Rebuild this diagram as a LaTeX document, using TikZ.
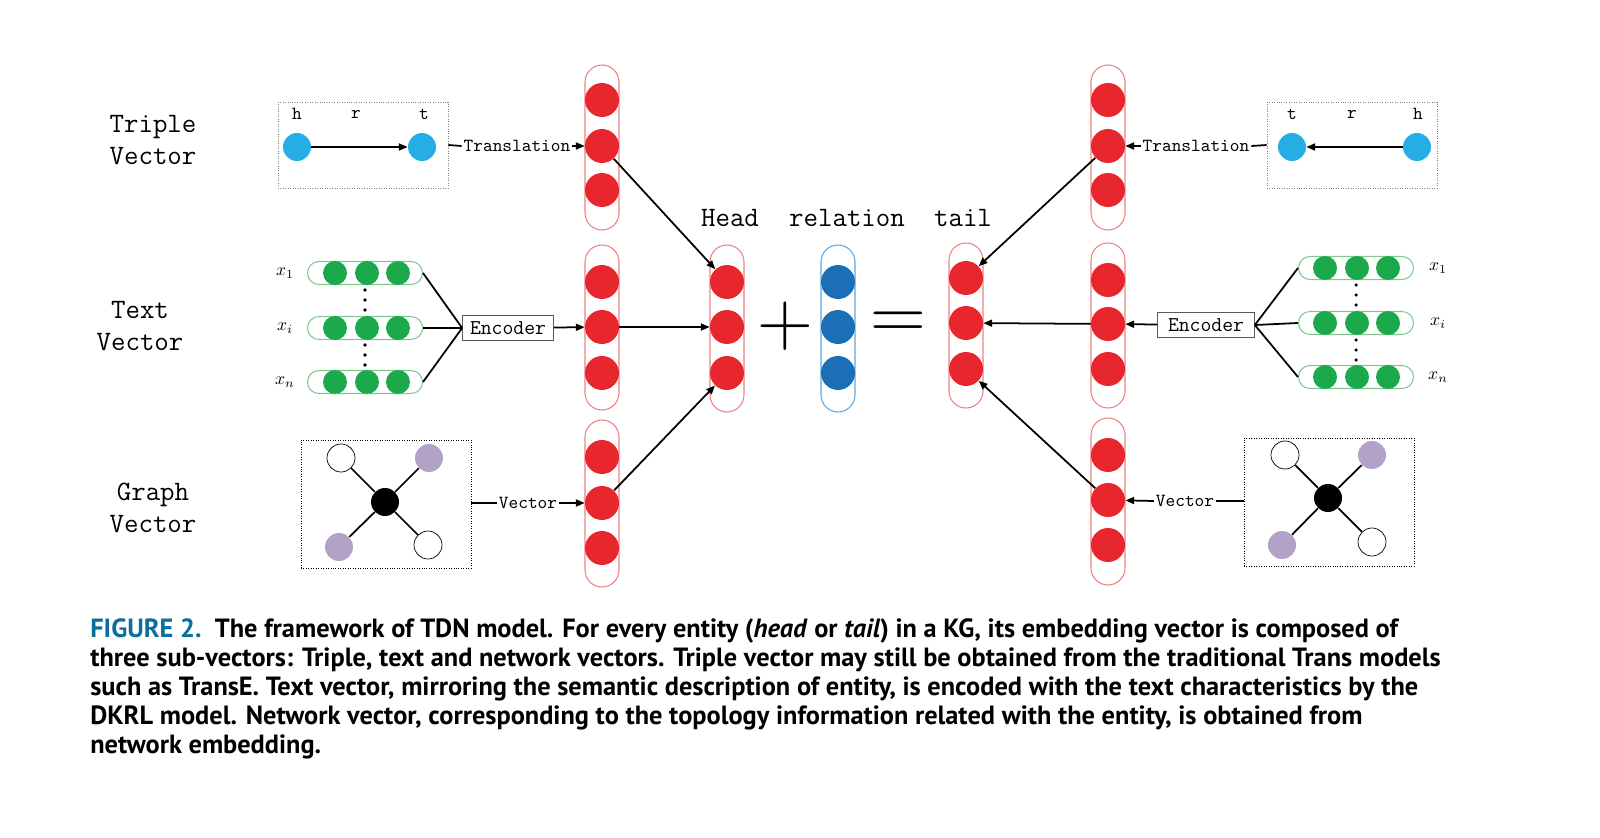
\documentclass[tikz,border=0pt]{standalone}
\usepackage{fontspec}
\newfontfamily\capfont{PT Sans}
\usetikzlibrary{arrows.meta}
\definecolor{vred}{HTML}{E8262E}
\definecolor{vpink}{HTML}{F08080}
\definecolor{vblue}{HTML}{1B6FB5}
\definecolor{vlblue}{HTML}{5AA8E0}
\definecolor{vcyan}{HTML}{25AEE6}
\definecolor{vgreen}{HTML}{1BA94C}
\definecolor{vlgreen}{HTML}{7CC98F}
\definecolor{vpurple}{HTML}{B3A2C7}
\definecolor{capblue}{HTML}{0A6E9E}
\begin{document}
\begin{tikzpicture}[x=0.02cm,y=-0.02cm,
  vcap/.style={draw=vpink,rounded corners=0.34cm,minimum width=0.68cm,line width=0.6pt},
  rd/.style={circle,fill=vred,minimum size=0.68cm,inner sep=0},
  bd/.style={circle,fill=vblue,minimum size=0.68cm,inner sep=0},
  gd/.style={circle,fill=vgreen,minimum size=0.48cm,inner sep=0},
  gcap/.style={draw=vlgreen,rounded corners=0.23cm,minimum height=0.46cm,minimum width=2.3cm,line width=0.6pt},
  nd/.style={circle,minimum size=0.56cm,inner sep=0},
  lab/.style={font=\ttfamily\fontsize{16pt}{18pt}\selectfont,align=center},
  sm/.style={font=\ttfamily\fontsize{10.5pt}{11pt}\selectfont,inner sep=1pt},
  arr/.style={-{Triangle[length=5pt,width=4pt]},line width=1pt},
  ln/.style={line width=1pt},
  cl/.style={anchor=west,font=\capfont\bfseries\fontsize{15pt}{16pt}\selectfont,inner sep=0}]
\useasboundingbox (0,0) rectangle (1600,838);
\newcommand\vcol[4]{%
  \node[vcap,minimum height={(#4-#3)*0.02cm}] (#1) at (#2,{(#3+#4)/2}) {};}
\vcol{L1}{602}{65}{230}
\vcol{L2}{602}{245}{410}
\vcol{L3}{602}{420}{587}
\vcol{H}{727}{245}{412}
\node[vcap,draw=vlblue,minimum height=3.34cm] (Rel) at (838,328.5) {};
\vcol{T}{966}{243}{408}
\vcol{R1}{1108}{65}{230}
\vcol{R2}{1108}{243}{408}
\vcol{R3}{1108}{418}{585}
\foreach \n/\x/\a/\b/\c in {L1/602/100/146/190,L2/602/282/327/373,L3/602/457/503/548,H/727/282/327/373,T/966/278/323/369,R1/1108/100/146/190,R2/1108/280/324/369,R3/1108/455/500/545}{
  \node[rd] (\n a) at (\x,\a) {};
  \node[rd] (\n b) at (\x,\b) {};
  \node[rd] (\n c) at (\x,\c) {};}
\node[bd] (Ra) at (838,282) {};
\node[bd] (Rb) at (838,327) {};
\node[bd] (Rc) at (838,373) {};
\node[lab] (hl) at (730,218) {Head};
\node[lab] (rl) at (847,218) {relation};
\node[lab] (tl) at (963,218) {tail};
\node[font=\fontsize{44pt}{44pt}\selectfont] (plus) at (785,326) {+};
\node[font=\fontsize{44pt}{44pt}\selectfont] (eq) at (898,326) {=};
\node[lab] (l1) at (153,140) {Triple\\Vector};
\node[lab] (l2) at (140,326) {Text\\Vector};
\node[lab] (l3) at (153,508) {Graph\\Vector};
\node[draw=gray,densely dotted,minimum width=3.4cm,minimum height=1.72cm] (tb1) at (363,145) {};
\node[sm] at (297,114) {h};\node[sm] at (356,114) {r};\node[sm] at (424,114) {t};
\node[nd,fill=vcyan] (h1) at (297,147) {};
\node[nd,fill=vcyan] (t1) at (422,147) {};
\draw[arr] (h1) -- (t1);
\node[draw=gray,densely dotted,minimum width=3.4cm,minimum height=1.72cm] (tb2) at (1352,145) {};
\node[sm] at (1292,114) {t};\node[sm] at (1352,114) {r};\node[sm] at (1418,114) {h};
\node[nd,fill=vcyan] (t2) at (1292,147) {};
\node[nd,fill=vcyan] (h2) at (1417,147) {};
\draw[arr] (h2) -- (t2);
\node[sm,fill=white] (tr1) at (517,146) {Translation};
\draw[ln] (tb1.east) -- (tr1.west);
\draw[arr] (tr1.east) -- (L1b);
\node[sm,fill=white] (tr2) at (1196,146) {Translation};
\draw[ln] (tb2.west) -- (tr2.east);
\draw[arr] (tr2.west) -- (R1b);
\foreach \s/\y/\lab in {a/273/x_1,b/328/x_i,c/382/x_n}{
  \node[gcap] (gl\s) at (365,\y) {};
  \node[gd] at (335,\y) {};\node[gd] at (367,\y) {};\node[gd] at (398,\y) {};
  \node at (285,\y) {$\lab$};}
\foreach \s/\y/\lab in {a/268/x_1,b/323/x_i,c/377/x_n}{
  \node[gcap] (gr\s) at (1356,\y) {};
  \node[gd] at (1325,\y) {};\node[gd] at (1357,\y) {};\node[gd] at (1388,\y) {};
  \node at (1438,\y) {$\lab$};}
\foreach \y in {290,300,310,345,355,365} \fill (365,\y) circle (1pt);
\foreach \y in {285,295,305,340,350,360} \fill (1356,\y) circle (1pt);
\node[draw=gray!70!black,font=\ttfamily\fontsize{12pt}{13pt}\selectfont,inner sep=1pt,minimum width=1.82cm,minimum height=0.5cm] (enc1) at (508,328) {Encoder};
\node[draw=gray!70!black,font=\ttfamily\fontsize{12pt}{13pt}\selectfont,inner sep=1pt,minimum width=1.94cm,minimum height=0.5cm] (enc2) at (1206,325) {Encoder};
\foreach \s in {a,b,c} {\draw[ln] (gl\s.east) -- (enc1.west); \draw[ln] (gr\s.west) -- (enc2.east);}
\draw[arr] (enc1) -- (L2b);
\draw[arr] (enc2) -- (R2b);
\node[draw,densely dotted,minimum width=3.4cm,minimum height=2.56cm] (gb1) at (386,504) {};
\node[nd,fill=black] (c1) at (385,502) {};
\node[nd,draw=black,fill=white] (a1) at (341,458) {};
\node[nd,fill=vpurple] (b1) at (429,458) {};
\node[nd,fill=vpurple] (d1) at (339,547) {};
\node[nd,draw=black,fill=white] (e1) at (428,545) {};
\foreach \n in {a1,b1,d1,e1} \draw[ln] (c1) -- (\n);
\node[draw,densely dotted,minimum width=3.4cm,minimum height=2.56cm] (gb2) at (1329,502) {};
\node[nd,fill=black] (c2) at (1328,498) {};
\node[nd,draw=black,fill=white] (a2) at (1285,455) {};
\node[nd,fill=vpurple] (b2) at (1372,455) {};
\node[nd,fill=vpurple] (d2) at (1282,545) {};
\node[nd,draw=black,fill=white] (e2) at (1372,542) {};
\foreach \n in {a2,b2,d2,e2} \draw[ln] (c2) -- (\n);
\node[sm,fill=white] (v1) at (528,503) {Vector};
\draw[ln] (gb1.east|-v1) -- (v1.west);
\draw[arr] (v1.east) -- (L3b);
\node[sm,fill=white] (v2) at (1185,501) {Vector};
\draw[ln] (gb2.west|-v2) -- (v2.east);
\draw[arr] (v2.west) -- (R3b);
\draw[arr] (L1b) -- (Ha);
\draw[arr] (L2b) -- (Hb);
\draw[arr] (L3b) -- (Hc);
\draw[arr] (R1b) -- (Ta);
\draw[arr] (R2b) -- (Tb);
\draw[arr] (R3b) -- (Tc);
\node[cl] (c1l) at (90,631) {{\color{capblue}FIGURE 2.}\ \ The framework of TDN model. For every entity (\textit{head} or \textit{tail}) in a KG, its embedding vector is composed of};
\node[cl] (c2l) at (90,660) {three sub-vectors: Triple, text and network vectors. Triple vector may still be obtained from the traditional Trans models};
\node[cl] (c3l) at (90,689) {such as TransE. Text vector, mirroring the semantic description of entity, is encoded with the text characteristics by the};
\node[cl] (c4l) at (90,718) {DKRL model. Network vector, corresponding to the topology information related with the entity, is obtained from};
\node[cl] (c5l) at (90,747) {network embedding.};
\end{tikzpicture}
\end{document}
